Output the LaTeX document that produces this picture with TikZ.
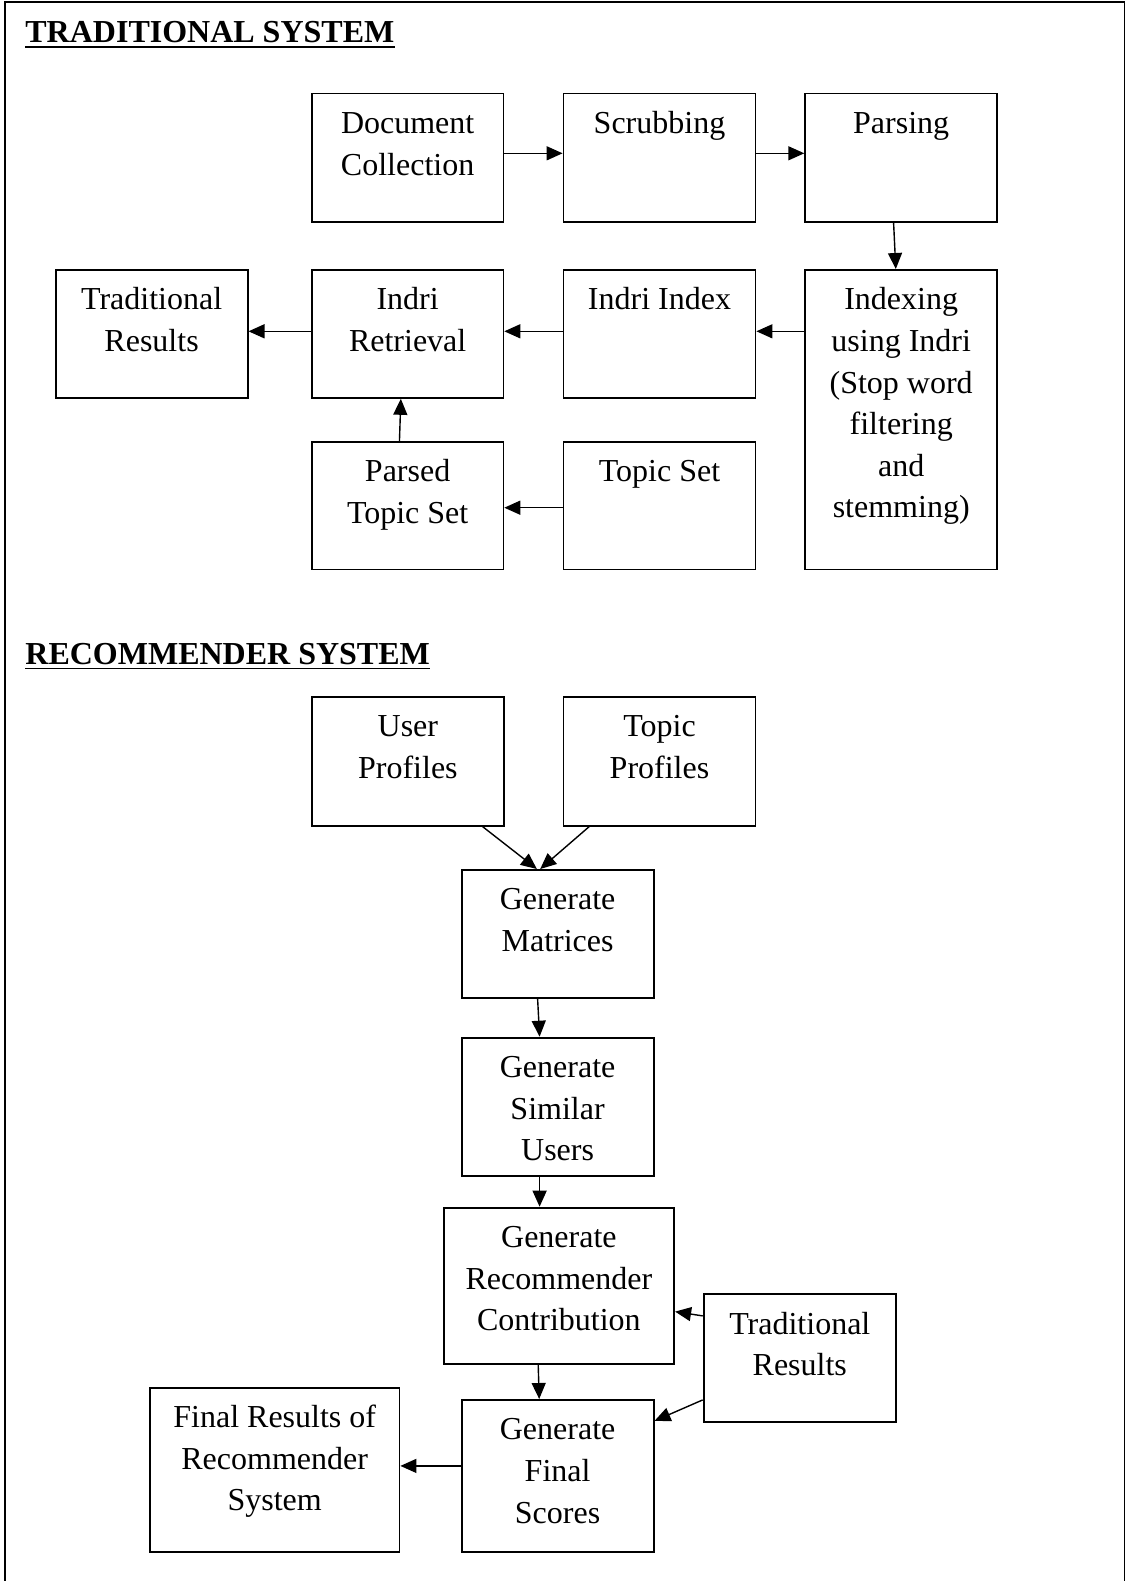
\documentclass[tikz,border=0pt]{standalone}
\usepackage{fontspec}
\setmainfont{Liberation Serif}
\usepackage{tikz}
\usetikzlibrary{arrows.meta}

% text of a block, set at the top of the box
\newcommand{\blktext}[3]{\parbox[c][#2][t]{#1}{\centering\rule{0pt}{20pt}#3}}

\begin{document}
\begin{tikzpicture}[x=0.5pt, y=-0.5pt,
    blk/.style={draw, line width=0.9pt, inner sep=0pt, anchor=north west,
        font=\fontsize{16}{20.8}\selectfont},
    head/.style={inner sep=0pt, anchor=base west, font=\fontsize{16}{20}\selectfont\bfseries},
    arr/.style={-{Triangle[length=8pt,width=7pt]}, line width=0.7pt}]
    \useasboundingbox (0,0) rectangle (1128,1581);
    \draw[line width=0.9pt] (4.7,1581) -- (4.7,2) -- (1124.5,2) -- (1124.5,1581);

    % traditional system
    \node[head] (trad) at (25,42.5) {TRADITIONAL SYSTEM};
    \draw[line width=0.8pt] ([yshift=-2.3pt]trad.base west) -- ([yshift=-2.3pt]trad.base east);

    \node[blk] (doc) at (311,92.5) {\blktext{95.75pt}{64.3pt}{Document\\Collection}};
    \node[blk] (scrub) at (562.6,92.5) {\blktext{96pt}{64.3pt}{Scrubbing}};
    \node[blk] (parse) at (804.3,92.5) {\blktext{96pt}{64.3pt}{Parsing}};
    \node[blk] (tradres) at (54.7,269) {\blktext{96pt}{64pt}{Traditional\\Results}};
    \node[blk] (retr) at (311,269) {\blktext{95.75pt}{64pt}{Indri\\Retrieval}};
    \node[blk] (index) at (562.6,269) {\blktext{96pt}{64pt}{Indri Index}};
    \node[blk] (indexing) at (804.3,269) {\blktext{96pt}{149.8pt}{Indexing\\using Indri\\(Stop word\\filtering\\and\\stemming)}};
    \node[blk] (parsed) at (311,441) {\blktext{95.75pt}{63.8pt}{Parsed\\Topic Set}};
    \node[blk] (topicset) at (562.6,441) {\blktext{96pt}{63.8pt}{Topic Set}};

    \draw
        ([yshift=2.2pt]doc.east) edge[arr] ([yshift=2.2pt]doc.east -| scrub.west)
        ([yshift=2.2pt]scrub.east) edge[arr] ([yshift=2.2pt]scrub.east -| parse.west)
        ([xshift=-3.8pt]parse.south) edge[arr] ([xshift=-2.7pt]indexing.north)
        ([yshift=1.3pt]index.east -| indexing.west) edge[arr] ([yshift=1.3pt]index.east)
        ([yshift=1.3pt]index.west) edge[arr] ([yshift=1.3pt]retr.east)
        ([yshift=1.3pt]retr.west) edge[arr] ([yshift=1.3pt]tradres.east)
        ([xshift=-4.1pt]parsed.north) edge[arr] ([xshift=-3.4pt]retr.south)
        ([yshift=-1pt]topicset.west) edge[arr] ([yshift=-1pt]parsed.east)
        ;

    % recommender system
    \node[head] (recsys) at (25,664) {RECOMMENDER SYSTEM};
    \draw[line width=0.8pt] ([yshift=-2.3pt]recsys.base west) -- ([yshift=-2.3pt]recsys.base east);

    \node[blk] (user) at (311,696) {\blktext{96pt}{64.4pt}{User\\Profiles}};
    \node[blk] (topicprof) at (562.6,696) {\blktext{96pt}{64.4pt}{Topic\\Profiles}};
    \node[blk] (genmat) at (460.7,869) {\blktext{96pt}{63.9pt}{Generate\\Matrices}};
    \node[blk] (gensim) at (460.7,1036.7) {\blktext{96pt}{69pt}{Generate\\Similar\\Users}};
    \node[blk] (genrec) at (442.7,1206.7) {\blktext{115.3pt}{78pt}{Generate\\Recommender\\Contribution}};
    \node[blk] (tradres2) at (702.7,1293.3) {\blktext{96.2pt}{63.7pt}{Traditional\\Results}};
    \node[blk] (finalres) at (149,1386.7) {\blktext{124.8pt}{82.2pt}{Final Results of\\Recommender\\System}};
    \node[blk] (finalsc) at (460.7,1399) {\blktext{96pt}{76pt}{Generate\\Final\\Scores}};

    \draw
        ([xshift=37.35pt]user.south) edge[arr] ([xshift=-10.35pt]genmat.north)
        ([xshift=-35.15pt]topicprof.south) edge[arr] ([xshift=-8.7pt]genmat.north)
        ([xshift=-10pt]genmat.south) edge[arr] ([xshift=-9pt]gensim.north)
        ([xshift=-9pt]gensim.south) edge[arr] ([xshift=-9.65pt]genrec.north)
        ([xshift=-10.35pt]genrec.south) edge[arr] ([xshift=-9.2pt]finalsc.north)
        ([yshift=21pt]tradres2.west) edge[arr] ([yshift=-13pt]genrec.east)
        ([yshift=-21pt]tradres2.west) edge[arr] ([yshift=27.5pt]finalsc.east)
        ([yshift=5pt]finalsc.west) edge[arr] ([yshift=5pt]finalsc.west -| finalres.east)
        ;
\end{tikzpicture}
\end{document}
